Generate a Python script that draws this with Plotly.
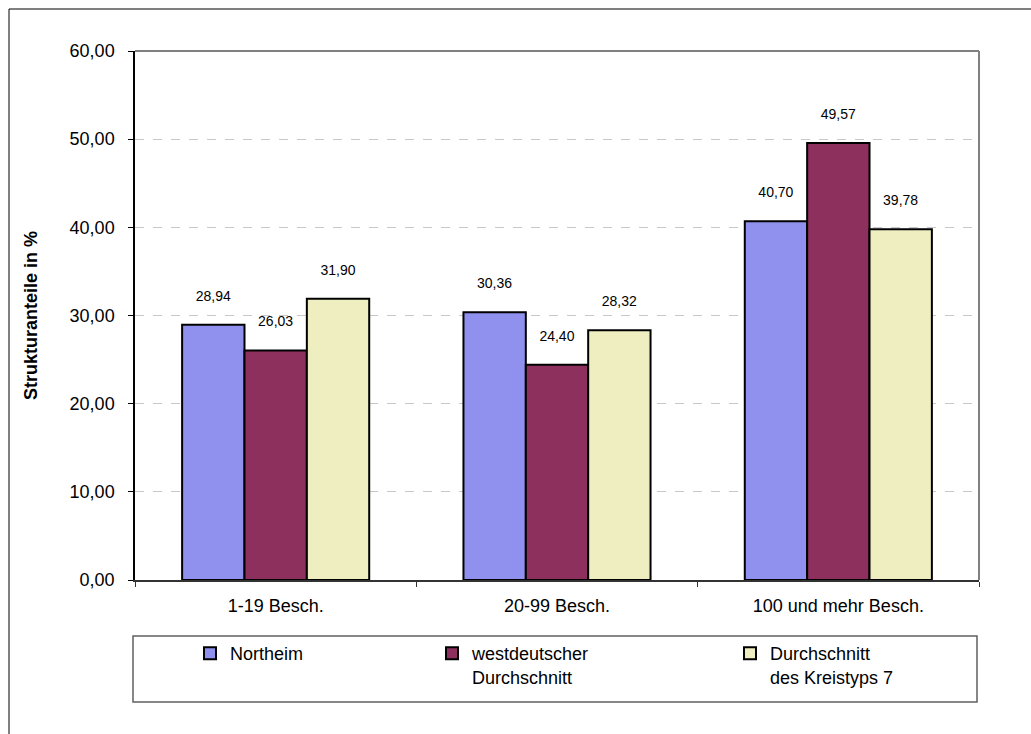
import plotly.graph_objects as go

categories = ["1-19 Besch.", "20-99 Besch.", "100 und mehr Besch."]
northeim = [28.94, 30.36, 40.70]
westdeutsch = [26.03, 24.40, 49.57]
kreistyp7 = [31.90, 28.32, 39.78]
series_names = ["Northeim", "westdeutscher<br>Durchschnitt", "Durchschnitt<br>des Kreistyps 7"]
series_colors = ["#9090ee", "#8e305e", "#eeeec0"]
y_ticks = [0, 10, 20, 30, 40, 50, 60]
y_title = "Strukturanteile in %"

FONT = "Liberation Sans, Arial, sans-serif"
W, H = 1031, 734
L, R, T, B = 135, 52, 51, 154
pw, ph = W - L - R, H - T - B


def px(x):
    return (x - L) / pw


def py(y):
    return (H - B - y) / ph


fig = go.Figure()
legend_ids = ["legend", "legend2", "legend3"]
for vals, name, col, lid in zip([northeim, westdeutsch, kreistyp7], series_names, series_colors, legend_ids):
    fig.add_trace(go.Bar(
        x=categories, y=vals, name=name, legend=lid,
        marker=dict(color=col, line=dict(color="black", width=2)),
        texttemplate="%{y:.2f}<br>\u00a0", textposition="outside",
        textfont=dict(size=14, color="black", family=FONT),
        cliponaxis=False,
    ))

leg_common = dict(orientation="h", yanchor="top", xanchor="left", valign="top",
                  font=dict(size=18, family=FONT, color="black"),
                  bgcolor="rgba(0,0,0,0)", borderwidth=0, y=py(635))
fig.update_layout(
    width=W, height=H,
    margin=dict(l=L, r=R, t=T, b=B, autoexpand=False),
    paper_bgcolor="white", plot_bgcolor="white",
    separators=",.",
    barmode="group", bargap=0.335, bargroupgap=0,
    font=dict(family=FONT, size=18, color="black"),
    showlegend=True,
    legend=dict(x=px(190), **leg_common),
    legend2=dict(x=px(432), **leg_common),
    legend3=dict(x=px(730), **leg_common),
    xaxis=dict(type="category", showline=True, linecolor="#333333", linewidth=1.5,
               ticks="outside", tickson="boundaries", ticklen=5, tickcolor="#333333",
               tickfont=dict(size=18), showgrid=False, ticklabelstandoff=9),
    yaxis=dict(range=[0, 60], tickvals=y_ticks, tickformat=".2f",
               showline=True, linecolor="black", linewidth=1.5,
               ticks="outside", ticklen=5, tickcolor="black",
               tickfont=dict(size=18), ticklabelstandoff=10,
               showgrid=True, gridcolor="#c8c8c8", griddash="dash", gridwidth=1,
               zeroline=False,
               title=dict(text="<b>" + y_title + "</b>", font=dict(size=18), standoff=27)),
    shapes=[
        dict(type="rect", xref="paper", yref="paper", x0=px(9), x1=px(1060), y0=py(760), y1=py(9),
             line=dict(color="black", width=1), layer="below"),
        dict(type="line", xref="paper", yref="paper", x0=0, x1=1, y0=1, y1=1,
             line=dict(color="#808080", width=2)),
        dict(type="line", xref="paper", yref="paper", x0=1, x1=1, y0=0, y1=1,
             line=dict(color="#808080", width=2)),
        dict(type="rect", xref="paper", yref="paper", x0=px(133), x1=px(977), y0=py(702), y1=py(636),
             line=dict(color="#606060", width=1.5)),
    ],
)

fig.write_html("out.html", config={"displayModeBar": False},
               post_script="document.body.style.margin='0';document.body.style.overflow='hidden';")
